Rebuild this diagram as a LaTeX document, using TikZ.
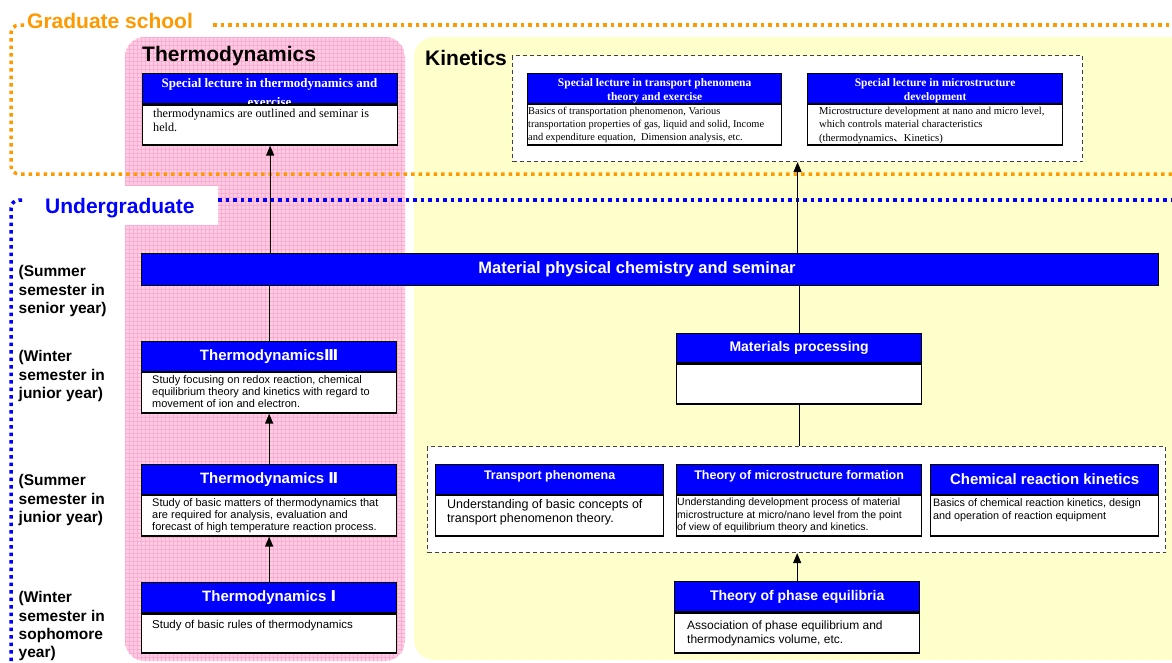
\documentclass[tikz,border=0pt]{standalone}
\usepackage{fontspec}
\setmainfont{Liberation Sans}
\newfontfamily\serifff{Liberation Serif}
\newfontfamily\numfont{DejaVu Sans}
\newfontfamily\cjkfont{Noto Sans CJK JP}
\usetikzlibrary{arrows.meta}
\definecolor{hblue}{RGB}{0,0,255}
\definecolor{gorange}{RGB}{255,153,0}
\definecolor{pinkbg}{RGB}{255,206,229}
\definecolor{pinkline}{RGB}{255,170,208}
\definecolor{ylw}{RGB}{255,255,204}
\definecolor{dgray}{RGB}{64,64,64}
\newcommand\fs[2]{\fontsize{#1}{#2}\selectfont}
\tikzset{
 hdr/.style={draw=black, fill=hblue, line width=1.3pt, inner sep=0pt, anchor=north west},
 bdy/.style={draw=black, fill=white, line width=1.3pt, inner sep=0pt, anchor=north west},
 htxt/.style={text=white, inner sep=0pt, align=center},
 btxt/.style={anchor=north west, inner sep=0pt, align=left, text=black},
 arr/.style={line width=1.3pt, -{Triangle[length=10pt,width=8pt]}},
 link/.style={line width=1.3pt},
 gframe/.style={draw=gorange, line width=3.5pt, dash pattern=on 3.5pt off 4pt, rounded corners=8pt},
 uframe/.style={draw=hblue, line width=3.5pt, dash pattern=on 3.5pt off 4pt, rounded corners=8pt},
 grpbox/.style={draw=dgray, fill=white, line width=1.1pt, dash pattern=on 4pt off 3pt, inner sep=0pt, anchor=north west},
 sem/.style={anchor=north west, inner sep=0pt, align=left, font=\bfseries\fs{15.5}{18.3}},
 area/.style={font=\bfseries\fs{21}{25}, inner sep=0pt, anchor=base west},
}
\newcommand\crs[6]{%
 \node[hdr, minimum width=#4pt, minimum height=#5pt] (#1-h) at (#2,#3) {};
 \node[bdy, minimum width=#4pt, minimum height=#6pt] (#1) at (#1-h.south west) {};}
\begin{document}
\begin{tikzpicture}[x=1pt,y=-1pt]
\useasboundingbox (0,0) rectangle (1172,662);
\begin{scope}
\clip (0,0) rectangle (1172,662);
\fill[white] (0,0) rectangle (1172,662);
% pink area with grid
\begin{scope}
\clip[rounded corners=20pt] (125,37) rectangle (405,661);
\fill[pinkbg] (125,37) rectangle (405,661);
\foreach \i in {0,...,70} \draw[pinkline, line width=0.5pt] (125+4*\i,37) -- (125+4*\i,661);
\foreach \j in {0,...,156} \draw[pinkline, line width=0.5pt] (125,37+4*\j) -- (405,37+4*\j);
\end{scope}
% yellow area
\fill[ylw, rounded corners=20pt] (414,37) rectangle (1200,660);
% frames
\draw[gframe] (24,25) -- (11,25) -- (11,174) -- (1190,174);
\draw[gframe] (213,25) -- (1190,25);
\fill[white] (125,186) rectangle (218,225);
\draw[uframe] (22,200) -- (11,200) -- (11,664);
\draw[uframe] (218,200) -- (1190,200);
\end{scope}
% area labels
\node[area, text=gorange] (gs) at (27,28) {Graduate school};
\node[area, text=hblue] (ug) at (45,213) {Undergraduate};
\node[area] (thermo) at (142,61) {Thermodynamics};
\node[area] (kinetics) at (425,65) {Kinetics};
% semester labels
\node[sem] (s1) at (18.5,265.5) {(Summer\\semester in\\senior year)};
\node[sem] (s2) at (18.5,350.5) {(Winter\\semester in\\junior year)};
\node[sem] (s3) at (18.5,474.5) {(Summer\\semester in\\junior year)};
\node[sem] (s4) at (18.5,591.5) {(Winter\\semester in\\sophomore\\year)};
% graduate courses
\node[grpbox, minimum width=570pt, minimum height=106pt] (kin) at (512,55) {};
\node[hdr, minimum width=255pt, minimum height=30pt] (thl-h) at (142,73) {};
\node[htxt, font=\serifff\bfseries\fs{13}{15}, anchor=base] at (269.5,87.5) {Special lecture in thermodynamics and};
\node[htxt, font=\serifff\bfseries\fs{13}{15}, anchor=base] at (269.5,106) {exercise};
\node[bdy, minimum width=255pt, minimum height=40pt] (thl) at (thl-h.south west) {};
\node[btxt, font=\serifff\fs{12.2}{14.5}] at (153,108.5) {thermodynamics are outlined and seminar is\\held.};
\crs{tpl}{527}{73}{254}{29.5}{40.5}
\node[htxt, font=\serifff\bfseries\fs{11.5}{14}] at ([yshift=-2pt]tpl-h.center) {Special lecture in transport phenomena\\theory and exercise};
\node[btxt, font=\serifff\fs{10.4}{13}] at (528,107) {Basics of transportation phenomenon, Various\\transportation properties of gas, liquid and solid, Income\\and expenditure equation,\ \ Dimension analysis, etc.};
\crs{msl}{807}{73}{255}{29.5}{40.5}
\node[htxt, font=\serifff\bfseries\fs{11.5}{14}] at ([yshift=-2pt]msl-h.center) {Special lecture in microstructure\\development};
\node[btxt, font=\serifff\fs{10.6}{13.3}] at (819,107) {Microstructure development at nano and micro level,\\which controls material characteristics\\(thermodynamics{\cjkfont 、}Kinetics)};
% bar
\node[hdr, minimum width=1017pt, minimum height=31.5pt] (bar) at (141,253) {};
\node[htxt, font=\bfseries\fs{16.5}{19}] at (637,269) {Material physical chemistry and seminar};
% thermodynamics column
\crs{th3}{141}{341}{255}{29.5}{40.5}
\node[htxt, font=\bfseries\fs{15}{18}] at (th3-h.center) {Thermodynamics{\numfont Ⅲ}};
\node[btxt, font=\fs{11}{12.2}] at (152,375) {Study focusing on redox reaction, chemical\\equilibrium theory and kinetics with regard to\\movement of ion and electron.};
\crs{th2}{141}{464}{255}{29.5}{40.5}
\node[htxt, font=\bfseries\fs{15}{18}] at (th2-h.center) {Thermodynamics {\numfont Ⅱ}};
\node[btxt, font=\fs{11}{12.2}] at (152,498) {Study of basic matters of thermodynamics that\\are required for analysis, evaluation and\\forecast of high temperature reaction process.};
\crs{th1}{141}{582}{255}{30}{39}
\node[htxt, font=\bfseries\fs{15}{18}] at (th1-h.center) {Thermodynamics {\numfont Ⅰ}};
\node[btxt, font=\fs{11.5}{13}] at (152,620) {Study of basic rules of thermodynamics};
% kinetics column
\crs{mp}{676}{333}{245}{29}{40}
\node[htxt, font=\bfseries\fs{14}{17}] at (mp-h.center) {Materials processing};
\node[grpbox, minimum width=738pt, minimum height=106pt] (grp) at (427,446) {};
\crs{tp}{435}{464}{228}{29.5}{40.5}
\node[htxt, font=\bfseries\fs{12.5}{15}] at ([yshift=3pt]tp-h.center) {Transport phenomena};
\node[btxt, font=\fs{12.5}{13.5}] at (447,499.5) {Understanding of basic concepts of\\transport phenomenon theory.};
\crs{mf}{676}{464}{245}{29.5}{40.5}
\node[htxt, font=\bfseries\fs{12.5}{15}] at ([yshift=3pt]mf-h.center) {Theory of microstructure formation};
\node[btxt, font=\fs{10.5}{12.5}] at (677,498) {Understanding development process of material\\microstructure at micro/nano level from the point\\of view of equilibrium theory and kinetics.};
\crs{ck}{930}{464}{228}{29.5}{40.5}
\node[htxt, font=\bfseries\fs{15}{18}] at (ck-h.center) {Chemical reaction kinetics};
\node[btxt, font=\fs{10.8}{13}] at (933,498) {Basics of chemical reaction kinetics, design\\and operation of reaction equipment};
\crs{pe}{674}{581}{245}{30}{40}
\node[htxt, font=\bfseries\fs{14}{17}] at (pe-h.center) {Theory of phase equilibria};
\node[btxt, font=\fs{12}{14.5}] at (687,620.5) {Association of phase equilibrium and\\thermodynamics volume, etc.};
% connectors
\draw[arr] (bar.north -| thl.south) -- (thl.south);
\draw[link] (th3-h.north) -- (th3-h.north |- bar.south);
\draw[arr] (th2-h.north) -- (th3.south);
\draw[arr] (th1-h.north) -- (th2.south);
\draw[arr] (bar.north -| kin.south) -- (kin.south);
\draw[link] (mp-h.north) -- (mp-h.north |- bar.south);
\draw[link] (mp.south) -- (mp.south |- grp.north);
\draw[arr] (pe-h.north) -- (pe-h.north |- grp.south);
\end{tikzpicture}
\end{document}
